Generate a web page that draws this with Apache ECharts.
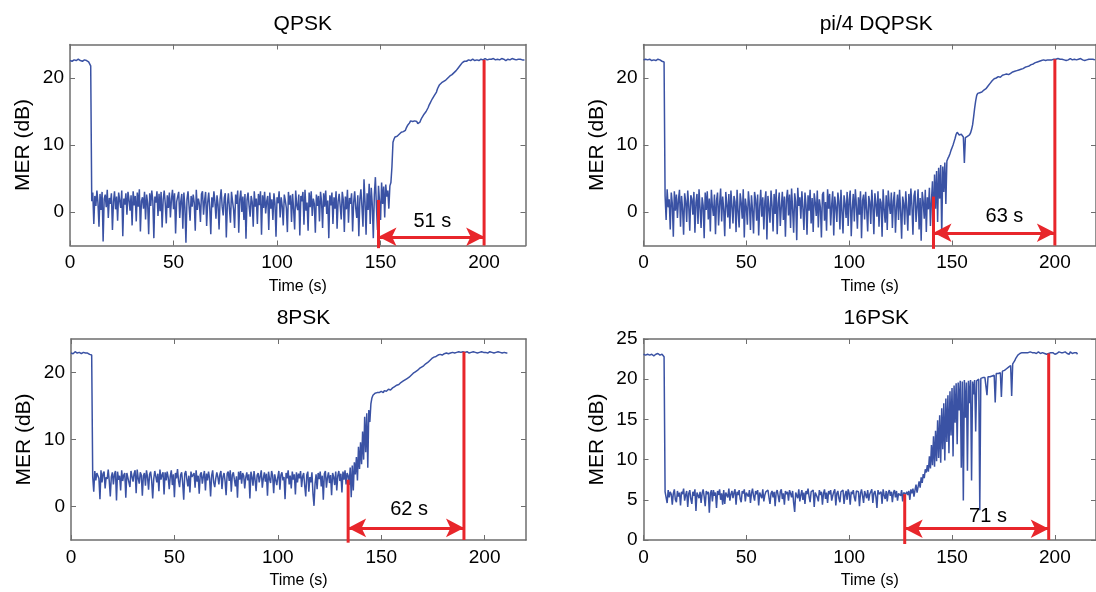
<!DOCTYPE html>
<html>
<head>
<meta charset="utf-8">
<script src="https://cdn.jsdelivr.net/npm/echarts@6.0.0/dist/echarts.min.js"></script>
<style>
    html, body { margin: 0; padding: 0; background: #fff; }
    #main { width: 1096px; height: 592px; }
</style>
</head>
<body>
<div id="main"></div>
<script>
//采样间隔 (s)，数组下标 * 间隔 = 时间
const timeStep = 0.5;

//QPSK MER (dB)
const qpskMer = [
    22.6, 22.7, 22.5, 22.6, 22.7, 22.8, 22.6, 22.5, 22.8, 22.6, 22.6, 22.4, 22.5, 22.7, 22.7, 22.6, 22.6, 22.5, 22.4, 22.6, 21.8,
    1.6, 2.9, -1.8, 2.4, 0.9, 3.2, 1.4, -2.2, 2.7, 0.3, 3.0, -4.4, 1.9, 2.6, 0.7, 3.3, -0.9, 2.1, 1.2, 2.8,
    -2.7, 1.5, 3.1, 0.4, 2.3, -1.3, 2.9, 1.7, 0.6, 3.2, -3.6, 2.0, 1.1, 2.8, -0.4, 3.0, 1.8, 0.2, 2.5, -2.0,
    3.1, 1.0, 2.4, -1.4, 2.9, 0.8, 3.4, -2.9, 1.6, 2.2, 0.5, 3.0, -1.1, 2.6, 1.3, -3.3, 2.8, 0.9, 3.2, 1.7,
    -3.9, 2.3, 1.4, 3.1, -0.6, 2.7, 0.1, 3.0, -2.3, 1.8, 3.2, 1.3, -1.7, 2.5, 0.6, 2.9, -0.8, 1.9, 3.3, 0.4,
    2.8, -3.2, 1.5, 2.3, 3.0, -0.9, 1.6, 2.7, -2.5, 2.9, 0.7, -4.6, 1.9, 3.1, 0.9, -1.3, 2.4, 0.8, 2.6, 1.4,
    -2.8, 3.3, 0.3, 2.0, 1.2, -1.5, 2.7, 3.1, -0.4, 1.7, 3.0, -2.1, 1.4, 2.9, 0.6, -3.3, 2.2, 0.7, 3.1, 1.5,
    -1.0, 2.5, 1.1, -2.6, 1.9, 3.4, 0.8, -0.5, 2.1, 2.8, -3.8, 1.1, 2.8, 0.5, -1.6, 3.0, 1.6, 0.4, -2.4, 2.6,
    1.2, 3.2, -3.1, 1.9, 3.2, 0.0, 2.3, -1.2, 2.7, -4.0, 1.8, 2.9, 0.9, -0.7, 2.4, 1.5, -2.2, 3.1, 0.8, 2.0,
    -1.8, 2.7, 1.0, 3.1, -3.4, 2.5, 0.6, 3.0, -0.2, 1.6, 2.4, -2.7, 2.9, 0.5, 1.9, -1.2, 2.8, 1.3, -3.7, 2.2,
    1.3, 3.1, -0.8, 2.2, 0.9, -2.0, 2.6, 1.7, 0.6, -3.0, 3.0, 1.1, 2.5, -1.5, 2.7, 0.4, -2.6, 3.2, 1.0, 0.3,
    2.6, -3.5, 2.4, 1.6, 3.0, -1.9, 3.3, 0.2, 1.4, -2.8, 2.9, 0.7, 3.1, -0.6, 2.0, 1.2, -3.1, 2.6, 0.9, 2.4,
    -1.4, 3.0, 1.5, -2.4, 2.8, 0.8, 3.2, -0.3, 1.7, -3.9, 2.5, 1.0, 2.9, -1.8, 2.2, 0.5, 3.1, -2.5, 1.6, 2.7,
    0.9, -1.1, 3.0, 1.8, -3.0, 2.3, 0.4, 3.3, -1.6, 2.1, 1.2, 2.8, -2.9, 1.4, 3.1, 0.6, -0.9, 2.5, -3.6, 1.9,
    3.4, 0.8, -2.2, 4.9, 1.5, -3.4, 2.8, 0.3, 4.2, -1.8, 3.6, 1.1, -3.9, 2.6, 5.2, 0.7, -2.7, 3.9, 1.6, -1.2,
    4.4, 1.2, 3.8, -0.8, 4.1, 2.3, 3.2, 0.5, 3.9, 4.4,
    6.8, 10.4, 10.9, 11.2, 11.0, 11.3, 11.1, 11.6, 11.5, 11.9,
    11.8, 12.0, 12.1, 12.2, 12.6, 12.9, 13.0, 13.3, 13.6, 13.7,
    13.5, 13.4, 13.6, 13.8, 13.5, 13.2, 13.3, 13.4, 13.8, 14.1,
    14.3, 14.6, 14.7, 15.0, 15.3, 15.6, 16.0, 16.3, 16.6, 16.9,
    17.1, 17.4, 17.6, 17.9, 18.4, 18.7, 19.0, 19.2, 19.3, 19.4,
    19.5, 19.6, 19.7, 19.8, 20.0, 20.1, 20.3, 20.4, 20.5, 20.7,
    20.8, 20.9, 21.1, 21.3, 21.5, 21.7, 21.9, 22.1, 22.3, 22.4,
    22.5, 22.6, 22.5, 22.6, 22.7, 22.7, 22.6, 22.6, 22.8, 22.7,
    22.6, 22.8, 22.7, 22.7, 22.6, 22.6, 22.8, 22.8, 22.7, 22.7,
    22.9, 22.8, 22.7, 22.7, 22.8, 22.6, 22.8, 22.9, 22.9, 22.7, 22.7, 22.8, 22.8, 22.7, 22.7, 22.9, 22.9, 22.8, 22.8, 22.6,
    22.6, 22.8, 22.8, 22.7, 22.7, 22.9, 22.9, 22.8, 22.8, 22.7, 22.7, 22.8, 22.8, 22.7, 22.8, 22.9, 22.7, 22.8, 22.7
];

//pi/4 DQPSK MER (dB)
const dqpskMer = [
    22.7, 22.6, 22.8, 22.7, 22.7, 22.6, 22.8, 22.7, 22.6, 22.8, 22.7, 22.6, 22.6, 22.7, 22.8, 22.7, 22.7, 22.6, 22.5, 22.6, 22.4,
    2.4, -1.2, 3.4, 0.7, 1.9, -2.6, 2.9, 1.3, -3.7, 3.1, 0.2, 2.6, -0.9, 1.8, 3.3, -2.2, 2.4, 0.5, -3.4, 2.8,
    1.6, -1.5, 3.2, 0.9, -2.8, 2.5, 1.9, -0.4, 3.0, -3.1, 1.4, 2.7, -1.8, 3.4, 0.6, -2.4, 2.2, 1.0, -3.9, 2.9,
    0.3, 3.1, -1.1, 2.0, -2.9, 3.3, 0.8, -0.6, 2.6, -3.3, 1.7, 2.9, -2.0, 1.2, 3.5, -1.4, 2.3, 0.4, -3.6, 3.0,
    1.1, -0.8, 2.7, -2.5, 3.2, 0.9, -1.7, 2.4, 1.5, -3.0, 3.3, 0.1, -2.3, 2.8, 1.4, -1.0, 3.4, -3.8, 2.0, 0.7,
    -1.9, 3.1, 1.2, -2.7, 2.5, 0.3, -3.2, 3.0, 1.8, -1.3, 2.6, -3.5, 0.9, 3.3, -0.7, 2.2, -2.6, 1.6, 3.1, -4.1,
    2.4, 0.5, -1.6, 3.2, 1.0, -2.9, 2.7, -0.3, 3.4, -3.3, 1.3, 2.9, -2.1, 0.8, 3.0, -1.2, 2.3, -3.7, 1.9, 3.3,
    -0.5, 2.6, -2.4, 3.5, 0.4, -3.1, 2.8, 1.5, -4.2, 3.6, 0.9, 2.2, -1.0, 3.1, 0.6, -2.7, 2.9, 1.1, -3.4, 2.5,
    0.2, 3.3, -1.7, 2.1, -3.0, 2.8, 1.4, -0.6, 3.2, -2.3, 1.9, 0.7, -3.8, 2.6, 3.0, -1.3, 1.5, -2.8, 3.4, 0.5,
    2.7, -2.0, 1.1, 3.1, -3.5, 2.3, 0.8, -1.5, 2.9, 1.6, -2.6, 3.3, 0.1, -3.2, 2.5, 1.2, -0.9, 3.0, -2.1, 1.8,
    3.2, -3.6, 0.6, 2.7, -1.4, 3.4, 1.0, -2.5, 2.2, -0.4, 3.1, -3.9, 1.7, 2.6, -1.1, 3.0, 0.3, -2.9, 2.4, 1.5,
    -1.8, 3.3, 0.9, -3.3, 2.8, 1.2, -0.7, 3.1, -2.2, 2.0, 1.4, -3.7, 3.4, 0.4, -1.6, 2.5, -2.7, 3.2, 1.1, -0.3,
    2.9, -2.4, 1.6, 3.0, -3.1, 0.7, 2.6, -1.2, 3.3, 0.2, -4.0, 2.3, 1.3, -1.9, 3.1, 0.6, -2.8, 2.7, -0.5, 3.5,
    1.0, -3.4, 2.4, 3.2, -1.5, 0.8, 3.4, -2.6, 2.1, -4.3, 3.0, 1.5, -1.0, 3.3, -3.0, 2.2, 0.4, 3.6, -2.1, 1.7,
    4.6, -2.8, 5.6, 0.5, 6.1, -1.5, 6.6, 2.0, 7.0, -3.6, 6.8, 3.0, 7.4, 1.2, 7.6, 8.0, 8.3, 8.7, 9.2, 9.6,
    10.0, 10.5, 11.0, 11.6, 11.9, 11.8, 11.5, 11.3, 11.6, 11.5,
    11.2, 7.3, 11.1, 11.2, 11.3, 11.3, 11.5, 11.8, 12.3, 13.0,
    14.2, 15.5, 16.6, 17.4, 17.7, 17.6, 17.8, 17.8, 17.9, 18.0,
    18.2, 18.1, 18.4, 18.6, 18.8, 19.0, 19.2, 19.4, 19.6, 19.8,
    19.9, 20.0, 20.0, 20.1, 20.2, 20.3, 20.1, 20.2, 20.4, 20.4,
    20.5, 20.5, 20.6, 20.6, 20.5, 20.6, 20.7, 20.8, 20.9, 20.9,
    21.0, 21.0, 21.1, 21.1, 21.2, 21.2, 21.3, 21.4, 21.4, 21.5,
    21.6, 21.6, 21.7, 21.8, 21.8, 21.9, 22.0, 22.1, 22.1, 22.2,
    22.3, 22.3, 22.4, 22.4, 22.5, 22.5, 22.6, 22.5, 22.7, 22.7,
    22.6, 22.8, 22.7, 22.8, 22.7, 22.8, 22.7, 22.8, 22.8, 22.7,
    22.8, 22.7, 22.9, 22.8, 22.8, 22.7, 22.8, 22.9, 22.7, 22.8, 22.6, 22.8, 22.7, 22.8, 22.9, 22.8, 22.7, 22.7, 22.8, 22.6,
    22.7, 22.8, 22.8, 22.7, 22.9, 22.8, 22.7, 22.8, 22.6, 22.8, 22.7, 22.9, 22.8, 22.7, 22.8, 22.7, 22.8, 22.6, 22.7
];

//8PSK MER (dB)
const psk8Mer = [
    22.9, 23.0, 22.8, 22.9, 23.1, 22.9, 22.9, 23.0, 23.0, 22.8, 22.8, 23.0, 23.0, 22.9, 22.9, 23.0, 22.9, 22.8, 22.7, 22.8, 22.6,
    4.4, 2.2, 5.3, 3.9, 5.0, 4.6, 4.2, 1.1, 5.4, 3.6, 4.9, 5.2, 2.7, 4.4, 4.1, 5.5, 3.8, 1.5, 4.4, 5.1,
    3.3, 4.8, 5.3, 0.9, 5.2, 4.0, 4.6, 2.4, 5.4, 3.8, 4.7, 5.0, 1.3, 5.0, 4.3, 3.6, 2.9, 5.3, 4.5, 3.7,
    4.9, 5.4, 2.0, 5.5, 4.2, 3.4, 5.1, 4.7, 1.6, 4.6, 5.0, 3.1, 5.4, 4.4, 2.5, 4.8, 5.2, 3.9, 1.2, 4.1,
    5.3, 4.5, 3.6, 4.9, 2.3, 5.5, 4.0, 4.7, 5.1, 1.8, 5.1, 3.9, 5.2, 4.3, 2.6, 4.5, 5.4, 3.2, 4.8, 1.4,
    5.0, 4.2, 5.6, 3.8, 2.9, 4.7, 5.1, 3.5, 1.0, 4.9, 5.3, 4.1, 3.0, 4.6, 2.1, 5.2, 4.4, 4.3, 5.0, 2.8,
    5.4, 3.7, 4.6, 1.9, 4.8, 5.1, 3.4, 4.5, 5.3, 2.4, 4.9, 3.9, 5.2, 4.2, 1.5, 4.6, 5.4, 3.6, 2.9, 4.2,
    5.1, 4.4, 3.3, 4.8, 5.3, 2.6, 4.4, 5.0, 3.8, 1.7, 4.9, 5.2, 3.8, 5.4, 2.2, 4.7, 5.1, 4.0, 3.0, 4.5,
    1.3, 5.2, 4.0, 5.3, 3.4, 5.0, 4.6, 2.7, 4.3, 5.1, 3.9, 4.8, 1.2, 5.2, 4.4, 3.1, 5.3, 4.0, 2.3, 4.7,
    5.0, 3.6, 4.5, 5.4, 2.8, 4.2, 5.1, 3.7, 4.9, 1.6, 5.2, 4.1, 3.5, 5.3, 4.6, 2.0, 4.8, 5.0, 3.2, 4.4,
    5.3, 2.5, 4.7, 5.1, 3.9, 4.4, 1.1, 5.0, 4.2, 5.4, 3.3, 4.6, 2.7, 5.2, 4.0, 4.8, 1.8, 5.1, 3.6, 4.9,
    4.2, 5.3, 2.9, 4.5, 5.0, 3.1, 1.5, 4.7, 5.2, 2.2, 4.4, 3.6, 5.1, 1.9, 0.1, 3.4, 4.8, 2.6, 5.0, 4.1,
    5.2, 3.0, 4.6, 1.0, 4.9, 5.3, 2.8, 4.3, 5.1, 3.5, 4.7, 1.7, 5.0, 4.4, 3.2, 5.2, 2.4, 4.6, 5.3, 3.8,
    4.9, 2.1, 5.2, 4.0, 5.4, 3.3, 5.0, 4.6,
    3.2, 5.8, 1.4, 6.1, 2.4, 6.6, 4.8, 7.4, 3.9, 8.9, 5.6, 9.6, 6.3, 11.2, 7.0, 13.4, 8.1, 13.9, 5.8, 14.4, 12.6, 15.3, 16.2, 16.6,
    16.7, 16.9, 16.8, 17.0, 17.1, 17.0, 17.2, 17.2, 17.1, 17.0,
    17.3, 17.4, 17.2, 17.3, 17.5, 17.6, 17.4, 17.5, 17.7, 17.8,
    17.9, 18.0, 18.1, 18.2, 18.2, 18.3, 18.5, 18.6, 18.7, 18.8,
    18.9, 19.0, 19.1, 19.2, 19.3, 19.5, 19.6, 19.7, 19.9, 20.0,
    20.1, 20.2, 20.3, 20.4, 20.6, 20.7, 20.8, 20.9, 21.0, 21.2,
    21.3, 21.4, 21.5, 21.6, 21.8, 21.9, 22.1, 22.2, 22.3, 22.4,
    22.4, 22.5, 22.6, 22.6, 22.7, 22.7, 22.6, 22.7, 22.8, 22.8,
    22.9, 22.9, 22.8, 22.8, 22.9, 22.9, 23.0, 23.0, 22.9, 22.9,
    23.0, 23.0, 23.1, 23.1, 23.0, 23.0, 23.1, 23.1,
    23.0, 23.0, 23.1, 23.1, 22.9, 22.9, 23.0, 23.0, 23.1, 23.1, 23.0, 23.0, 22.9, 22.9, 23.0, 23.0, 23.1, 23.1, 23.0, 23.0, 23.0,
    23.0, 22.9, 22.9, 23.1, 23.1, 23.0, 23.0, 22.9, 22.9, 23.0, 23.0, 23.1, 23.1, 23.0, 23.0, 22.9, 22.9, 23.0, 23.0, 22.9, 22.9
];

//16PSK MER (dB)
const psk16Mer = [
    23.1, 23.0, 23.0, 23.2, 23.1, 23.0, 23.0, 23.1, 23.1, 22.9, 22.9, 23.1, 23.1, 23.2, 23.2, 23.0, 23.0, 23.1, 23.1, 23.0, 22.8,
    6.0, 5.9, 4.6, 6.2, 5.3, 6.0, 5.7, 4.4, 5.8, 6.3, 5.0, 4.7, 6.1, 5.4, 5.9, 4.3, 6.0, 5.7, 6.4, 4.9,
    5.6, 6.1, 4.1, 5.8, 6.2, 5.1, 4.5, 6.0, 5.5, 6.3, 3.6, 5.9, 6.1, 5.2, 6.0, 4.6, 5.8, 6.3, 5.4, 4.2,
    6.1, 5.7, 6.0, 3.4, 5.8, 6.2, 4.8, 6.2, 5.5, 5.9, 4.0, 6.1, 5.6, 6.3, 5.0, 5.8, 4.4, 6.2, 4.5, 5.9,
    6.0, 5.3, 6.4, 4.9, 5.7, 6.1, 5.2, 5.9, 6.3, 4.4, 6.0, 5.6, 6.2, 5.1, 4.7, 6.1, 5.8, 6.3, 4.8, 5.9,
    6.0, 5.4, 6.2, 4.6, 5.8, 6.4, 5.5, 4.9, 6.1, 5.7, 6.2, 4.3, 5.9, 6.0, 5.2, 6.3, 4.8, 5.6, 6.0, 5.8,
    6.2, 5.3, 4.5, 5.8, 6.1, 5.3, 6.0, 4.2, 5.9, 6.2, 5.5, 4.7, 6.0, 6.3, 5.1, 5.8, 4.4, 6.1, 5.7, 6.0,
    4.9, 6.2, 5.8, 5.3, 6.1, 4.6, 3.5, 5.9, 6.0, 5.2, 6.3, 4.8, 5.6, 6.2, 5.0, 5.9, 4.5, 6.1, 5.7, 6.4,
    5.4, 4.7, 6.0, 5.8, 6.2, 4.1, 5.9, 6.1, 5.3, 4.8, 6.2, 5.6, 6.0, 4.4, 5.8, 6.3, 5.1, 5.9, 4.6, 6.1,
    5.7, 6.2, 4.9, 5.5, 6.0, 6.3, 4.3, 5.8, 6.1, 5.2, 4.7, 6.0, 5.9, 6.2, 4.5, 5.6, 6.1, 5.0, 6.3, 5.8,
    4.4, 6.0, 5.7, 6.2, 5.3, 4.8, 6.1, 5.9, 6.0, 4.2, 5.8, 6.3, 5.5, 4.6, 6.1, 5.9, 5.2, 6.2, 4.9, 5.7,
    6.0, 6.3, 4.6, 5.8, 6.1, 5.4, 4.0, 6.2, 5.7, 5.9, 6.0, 4.5, 6.3, 5.6, 5.1, 6.1, 4.8, 5.9, 6.2, 5.5,
    6.0, 4.7, 5.9, 6.2, 5.3, 6.1, 4.9, 5.8, 6.0, 5.5, 6.2, 4.8, 5.9, 6.1, 5.7, 6.0,
    5.6, 6.1, 5.0, 6.3, 5.8, 6.4, 5.4, 6.2, 6.9, 5.9, 6.6, 7.3, 6.5, 7.8, 7.1, 8.2, 7.7, 8.8, 8.4,
    9.3, 8.5, 10.4, 8.9, 11.8, 9.3, 12.9, 9.1, 13.6, 9.8,
    14.9, 10.2, 15.5, 9.6, 16.4, 11.3, 17.0, 9.9, 17.6, 12.2,
    18.0, 10.8, 18.5, 13.0, 18.9, 10.4, 19.2, 14.6, 19.5, 11.9,
    19.6, 16.1, 19.8, 9.0, 19.7, 4.9, 19.9, 15.2, 19.6, 8.6,
    19.8, 17.0, 19.9, 7.4, 19.7, 18.1, 19.9, 13.5, 19.8, 19.7,
    20.0, 3.7, 20.1, 19.9, 20.2, 20.1, 20.2,
    20.3, 18.0, 20.3, 20.4, 20.3, 20.5, 20.4, 20.6, 20.5, 17.1,
    20.7, 20.8, 20.7, 20.9, 20.8, 17.8, 21.0, 21.0, 21.1, 21.2,
    21.3, 21.3, 21.5, 21.6, 21.7, 17.9, 21.9, 22.1, 22.3, 22.6,
    22.8, 23.0, 23.1, 23.2, 23.2, 23.3,
    23.2, 23.3, 23.4, 23.3, 23.2, 23.3, 23.3, 23.4, 23.2, 23.3, 23.4, 23.3, 23.2, 23.2, 23.3, 23.4, 23.3, 23.2, 23.3, 23.3,
    23.4, 23.2, 23.3, 23.1, 23.3, 23.2, 23.4, 23.3, 23.2, 23.3, 23.4, 23.1, 23.3, 23.2, 23.3, 23.4, 23.2, 23.3, 23.1, 23.3,
    23.2, 23.4, 23.3, 23.2, 23.3, 23.1, 23.4, 23.3, 23.2, 23.1, 23.3, 23.2, 23.3, 23.1
];

//子图标题
const titles = ['QPSK', 'pi/4 DQPSK', '8PSK', '16PSK'];
const series_data = [qpskMer, dqpskMer, psk8Mer, psk16Mer];

//红色标记：起止时间、竖线端点、箭头高度、文字
const startTimes = [149, 141, 134, 127];
const endTimes = [200, 200, 190, 197];
const startTops = [1.8, 2.3, 4.0, 5.7];
const endTops = [22.7, 22.8, 23.1, 23.2];
const lineBottoms = [-5.4, -5.5, -5.4, -0.5];
const arrowLevels = [-3.7, -3.1, -3.2, 1.4];
const gapLabels = ['51 s', '63 s', '62 s', '71 s'];
const labelX = [175, 175.5, 163.5, 167.5];
const labelY = [-1.4, -0.7, -0.5, 2.9];

//坐标轴刻度
const xTicks = [0, 50, 100, 150, 200];
const yTicks = [[0, 10, 20], [0, 10, 20], [0, 10, 20], [0, 5, 10, 15, 20, 25]];
const yRanges = [[-5, 25], [-5, 25], [-5, 25], [0, 25]];

const FONT = '"Liberation Sans", Arial, Helvetica, sans-serif';
const BLUE = '#3a52a4';
const RED = '#e8262b';
const AXIS = '#6e6e6e';
const TEXT = '#000';

//子图位置
const boxes = [
    { left: 70, top: 44.5, width: 455.5, height: 201 },
    { left: 643.5, top: 44.5, width: 455.5, height: 201 },
    { left: 71, top: 339, width: 455, height: 201 },
    { left: 643.5, top: 339, width: 455.5, height: 201 }
];

const chart = echarts.init(document.getElementById('main'), null, { renderer: 'canvas' });

let grids = [], xAxes = [], yAxes = [], series = [], titleList = [];

for (let i = 0; i < 4; i++) {
    const b = boxes[i];
    grids.push({ left: b.left, top: b.top, width: b.width, height: b.height, show: false });

    titleList.push({
        text: titles[i],
        left: b.left + b.width / 2,
        top: i < 2 ? 9 : 303,
        textAlign: 'center',
        textStyle: { fontFamily: FONT, fontSize: 21, fontWeight: 'normal', color: TEXT }
    });

    const axisLine = { show: true, onZero: false, lineStyle: { color: AXIS, width: 1.5 } };
    const tickStyle = { color: AXIS, width: 1 };

    //下方x轴
    xAxes.push({
        type: 'value', gridIndex: i, position: 'bottom', min: 0, max: 220,
        axisLine: axisLine,
        axisTick: { show: true, inside: true, length: 5, customValues: xTicks, lineStyle: tickStyle },
        axisLabel: { customValues: xTicks, fontFamily: FONT, fontSize: 19, color: TEXT, margin: 8 },
        splitLine: { show: false },
        name: 'Time (s)', nameLocation: 'middle', nameGap: 33,
        nameTextStyle: { fontFamily: FONT, fontSize: 16, color: TEXT }
    });
    //上方x轴（只画刻度）
    xAxes.push({
        type: 'value', gridIndex: i, position: 'top', min: 0, max: 220,
        axisLine: axisLine,
        axisTick: { show: true, inside: true, length: 5, customValues: xTicks, lineStyle: tickStyle },
        axisLabel: { show: false },
        splitLine: { show: false }
    });
    //左侧y轴
    yAxes.push({
        type: 'value', gridIndex: i, position: 'left', min: yRanges[i][0], max: yRanges[i][1],
        axisLine: axisLine,
        axisTick: { show: true, inside: true, length: 5, customValues: yTicks[i], lineStyle: tickStyle },
        axisLabel: { customValues: yTicks[i], fontFamily: FONT, fontSize: 19, color: TEXT, margin: 6 },
        splitLine: { show: false },
        name: 'MER (dB)', nameLocation: 'middle', nameGap: 36,
        nameTextStyle: { fontFamily: FONT, fontSize: 21, color: TEXT }
    });
    //右侧y轴（只画刻度）
    yAxes.push({
        type: 'value', gridIndex: i, position: 'right', min: yRanges[i][0], max: yRanges[i][1],
        axisLine: axisLine,
        axisTick: { show: true, inside: true, length: 5, customValues: yTicks[i], lineStyle: tickStyle },
        axisLabel: { show: false },
        splitLine: { show: false }
    });

    //MER 曲线
    series.push({
        type: 'line',
        xAxisIndex: 2 * i, yAxisIndex: 2 * i,
        data: series_data[i].map(function (v, k) { return [k * timeStep, v]; }),
        showSymbol: false,
        sampling: null,
        lineStyle: { color: BLUE, width: 1.5 },
        z: 2
    });

    //红色竖线（起点）+ 双向箭头
    series.push({
        type: 'line',
        xAxisIndex: 2 * i, yAxisIndex: 2 * i,
        data: [[startTimes[i], startTops[i]], [startTimes[i], lineBottoms[i]]],
        showSymbol: false, clip: false,
        lineStyle: { color: RED, width: 3 },
        z: 5,
        markLine: {
            silent: true,
            symbol: ['arrow', 'arrow'],
            symbolSize: [14, 18],
            lineStyle: { color: RED, width: 3, type: 'solid' },
            label: { show: false },
            emphasis: { disabled: true },
            data: [[{ coord: [startTimes[i], arrowLevels[i]] }, { coord: [endTimes[i], arrowLevels[i]] }]]
        }
    });
    //红色竖线（终点）
    series.push({
        type: 'line',
        xAxisIndex: 2 * i, yAxisIndex: 2 * i,
        data: [[endTimes[i], endTops[i]], [endTimes[i], yRanges[i][0]]],
        showSymbol: false, clip: false,
        lineStyle: { color: RED, width: 3 },
        z: 5
    });

    //时间差文字
    series.push({
        type: 'scatter',
        xAxisIndex: 2 * i, yAxisIndex: 2 * i,
        data: [[labelX[i], labelY[i]]],
        symbolSize: 0,
        itemStyle: { opacity: 1, color: TEXT },
        label: {
            show: true, position: 'inside', formatter: gapLabels[i],
            fontFamily: FONT, fontSize: 20, color: TEXT,
            textBorderWidth: 0, opacity: 1
        },
        z: 6
    });
}

chart.setOption({
    animation: false,
    backgroundColor: '#fff',
    title: titleList,
    grid: grids,
    xAxis: xAxes,
    yAxis: yAxes,
    series: series
});
</script>
</body>
</html>
